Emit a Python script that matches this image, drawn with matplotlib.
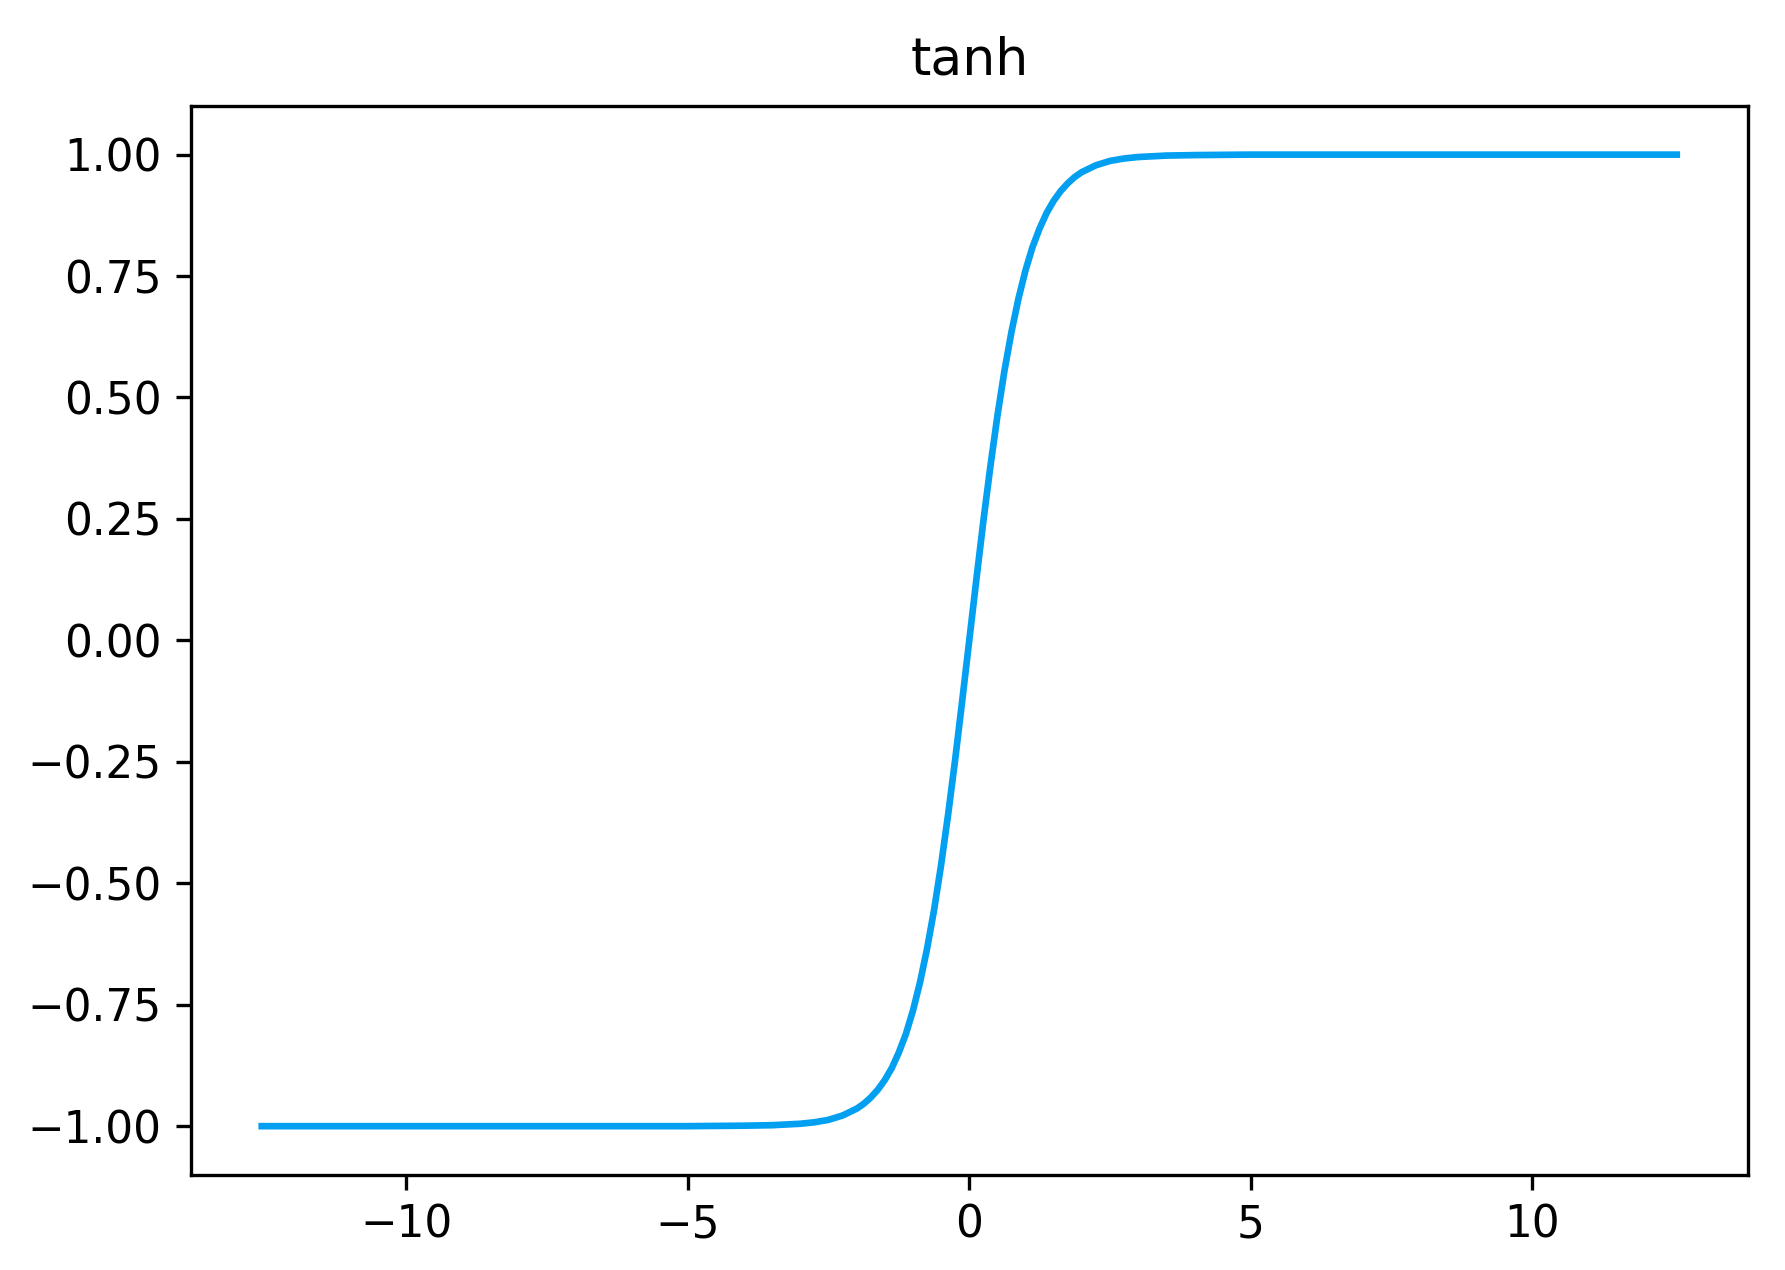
import matplotlib.pyplot as plt

# values
x_vals = [-12.57, -10.0, -8.0, -6.0, -5.0, -4.0, -3.5, -3.0, -2.75, -2.5,
          -2.25, -2.0, -1.875, -1.75, -1.625, -1.5, -1.375, -1.25, -1.125, -1.0,
          -0.875, -0.75, -0.625, -0.5, -0.375, -0.25, -0.125, 0.0,
          0.125, 0.25, 0.375, 0.5, 0.625, 0.75, 0.875, 1.0,
          1.125, 1.25, 1.375, 1.5, 1.625, 1.75, 1.875, 2.0, 2.25, 2.5,
          2.75, 3.0, 3.5, 4.0, 5.0, 6.0, 8.0, 10.0, 12.57]
y_vals = [-1.0, -1.0, -1.0, -1.0, -1.0, -0.999, -0.998, -0.995, -0.992, -0.987,
          -0.978, -0.964, -0.954, -0.941, -0.925, -0.905, -0.880, -0.848, -0.810, -0.762,
          -0.704, -0.635, -0.555, -0.462, -0.358, -0.245, -0.124, 0.0,
          0.124, 0.245, 0.358, 0.462, 0.555, 0.635, 0.704, 0.762,
          0.810, 0.848, 0.880, 0.905, 0.925, 0.941, 0.954, 0.964, 0.978, 0.987,
          0.992, 0.995, 0.998, 0.999, 1.0, 1.0, 1.0, 1.0, 1.0]
title = "tanh"

fig = plt.figure(figsize=(5.95, 4.2334), dpi=300)
ax = fig.add_axes([0.107, 0.075, 0.872, 0.8415])
ax.plot(x_vals, y_vals, color='#039ff0', linewidth=1.6)
ax.set_xticks([-10, -5, 0, 5, 10])
ax.set_yticks([-1.0, -0.75, -0.5, -0.25, 0.0, 0.25, 0.5, 0.75, 1.0])
ax.tick_params(labelsize=10.5)
ax.set_title(title, fontsize=12.5, pad=7.5)
fig.savefig("out.png", dpi=300)
